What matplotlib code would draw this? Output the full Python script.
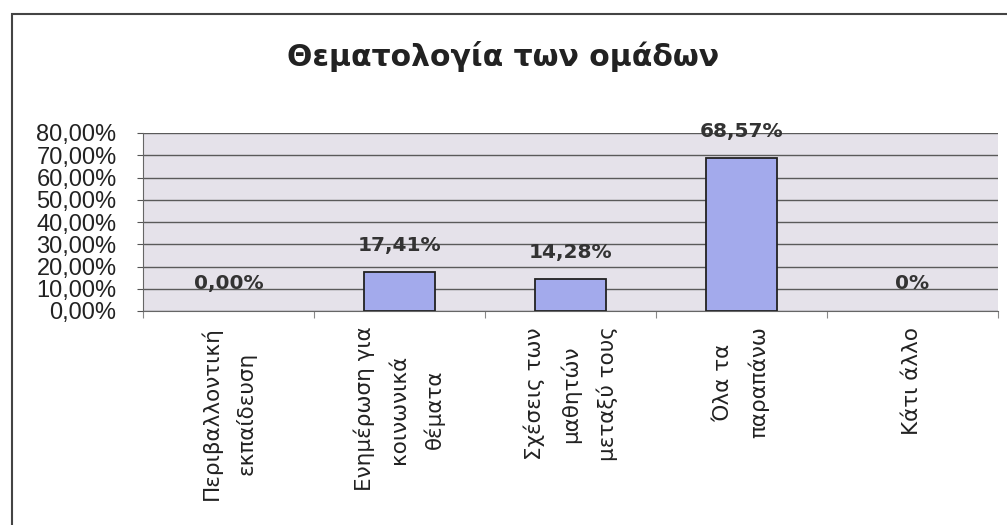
import matplotlib.pyplot as plt
import numpy as np
from matplotlib.patches import Rectangle

# Θεματολογία των ομάδων
categories = ["Περιβαλλοντική\nεκπαίδευση",
              "Ενημέρωση για\nκοινωνικά\nθέματα",
              "Σχέσεις των\nμαθητών\nμεταξύ τους",
              "Όλα τα\nπαραπάνω",
              "Κάτι άλλο"]
values = [0.0, 17.41, 14.28, 68.57, 0.0]
value_labels = ["0,00%", "17,41%", "14,28%", "68,57%", "0%"]
yticks = np.arange(0, 81, 10)
ytick_labels = [f"{v},00%" for v in yticks]

fig = plt.figure(figsize=(10.07, 5.25), dpi=100)
ax = fig.add_axes([143/1007, 1 - 311/525, 855/1007, 178/525])
ax.set_facecolor('#e5e2ea')

x = np.arange(len(categories))
edge_w = [1.3 if v > 0 else 0 for v in values]
ax.bar(x, values, width=0.41, color='#a3aaec', edgecolor='#222222', linewidth=edge_w, zorder=3)

for xi, v, lab in zip(x, values, value_labels):
    ax.annotate(lab, (xi, v), xytext=(0, 19.5), textcoords='offset points',
                ha='center', va='center', fontsize=14.5, fontweight='bold', color='#333333')

ax.set_xlim(-0.5, len(categories) - 0.5)
ax.set_ylim(0, 80)
ax.set_yticks(yticks)
ax.set_yticklabels(ytick_labels, fontsize=17, color='#222222', family='Liberation Sans')
ax.yaxis.grid(True, color='#5a5a5a', linewidth=1.0, zorder=1)
ax.tick_params(axis='y', length=4, color='#555555', pad=15)

# category ticks sit on the boundaries, names centered below each bar
ax.set_xticks(np.arange(-0.5, len(categories)))
ax.set_xticklabels([])
ax.tick_params(axis='x', length=5, color='#888888')
for xi, name in zip(x, categories):
    ax.text(xi, -7, name, rotation=90, ha='center', va='top', multialignment='center',
            fontsize=15.5, linespacing=1.85, color='#222222')

for s in ['top', 'right']:
    ax.spines[s].set_visible(False)
ax.spines['left'].set_color('#666666')
ax.spines['bottom'].set_color('#666666')

fig.text(0.5, 1 - 57/525, "Θεματολογία των ομάδων", ha='center', va='center',
         fontsize=21.5, fontweight='bold', color='#222222')

# outer frame
fig.patches.append(Rectangle((12/1007, -0.05), 1.2, 1 - 14/525 + 0.05, transform=fig.transFigure,
                             fill=False, edgecolor='#444444', linewidth=1.5))

fig.savefig('out.png', dpi=100)
